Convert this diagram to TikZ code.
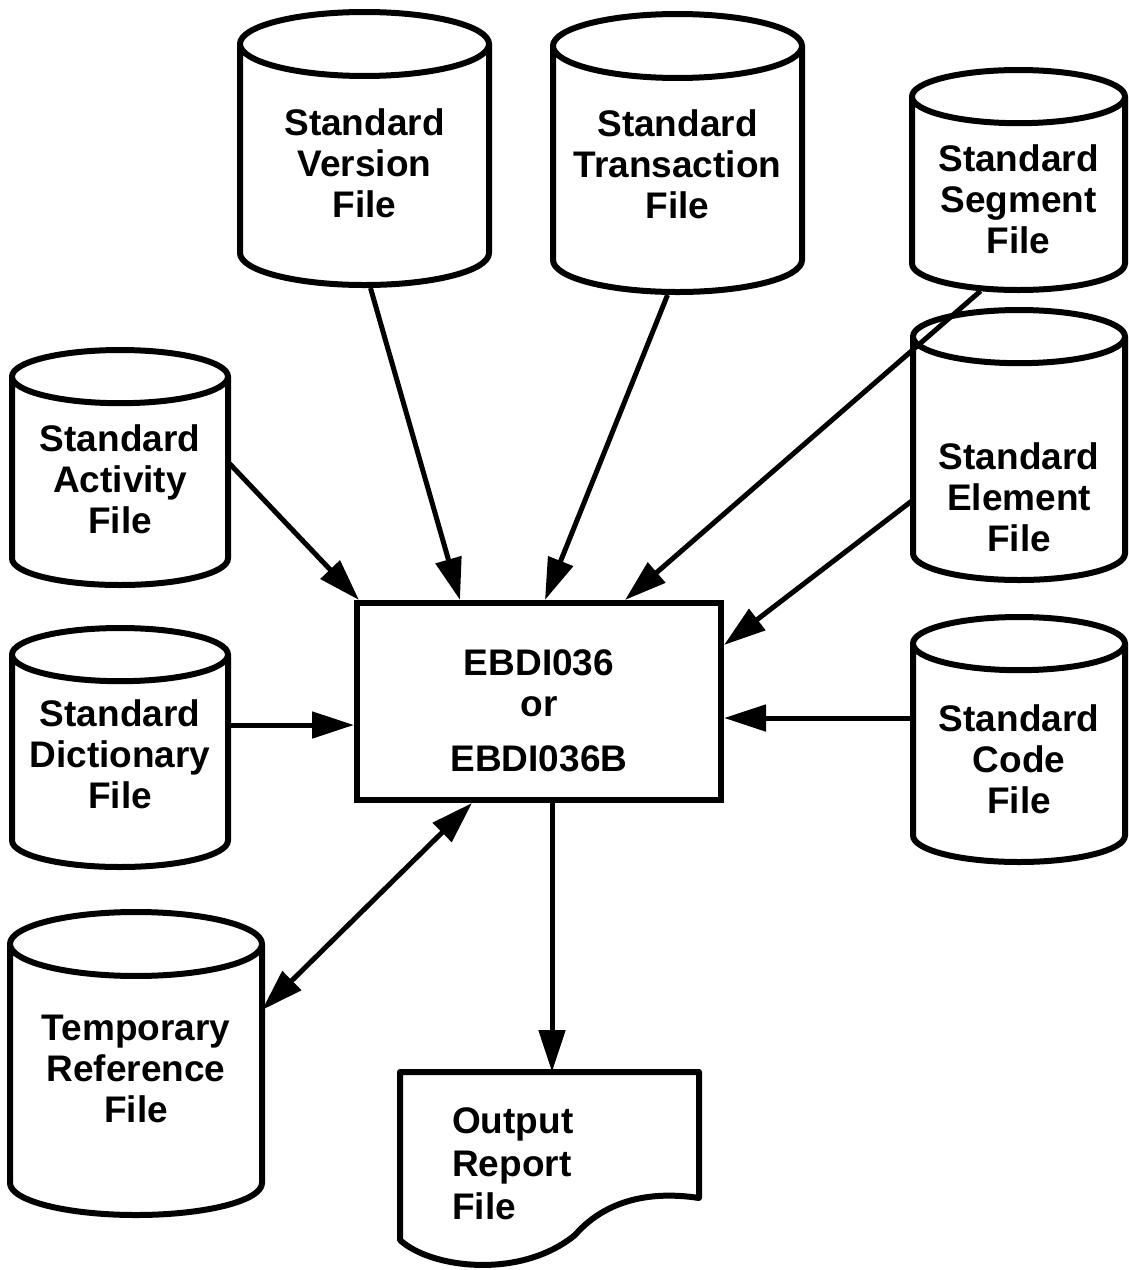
\documentclass[tikz,border=0pt]{standalone}
\usepackage{fontspec}
\setmainfont{Liberation Sans}
\usetikzlibrary{arrows.meta, shapes.geometric}

% lines of a label, lifted by #1 without changing its size
\newcommand\stack[2]{\makebox[\linewidth]{\raisebox{#1}[\height][\depth]{\begin{tabular}{@{}c@{}}#2\end{tabular}}}}

\tikzset{
  file/.style={draw, line width=6pt, cylinder, shape border rotate=90, aspect=0.38,
    anchor=shape center, inner sep=0pt, text width=140pt, align=center,
    font=\bfseries\fontsize{37}{41}\selectfont},
  wide/.style={aspect=0.457},
  prog/.style={draw, line width=6pt, rectangle, inner sep=0pt, text width=300pt, align=center,
    minimum width=364pt, minimum height=197pt,
    font=\bfseries\fontsize{37}{41}\selectfont},
  report/.style={rectangle, inner sep=0pt, anchor=north west,
    minimum width=299pt, minimum height=184pt,
    text width=195pt, align=left, font=\bfseries\fontsize{37}{43}\selectfont},
  flow/.style={line width=5pt, -{Triangle[length=42pt,width=26pt]}},
  both/.style={line width=5pt, {Triangle[length=42pt,width=26pt]}-{Triangle[length=42pt,width=26pt]}},
}

\begin{document}
\begin{tikzpicture}[x=1pt,y=-1pt]
\useasboundingbox (0,0) rectangle (1128,1270);

% files round the program
\node[file, wide, minimum width=249pt, minimum height=273pt] (ver) at (364.5,148.5) {\stack{-2pt}{Standard\\Version\\File}};
\node[file, wide, minimum width=249pt, minimum height=278pt] (trn) at (677.5,153) {\stack{1pt}{Standard\\Transaction\\File}};
\node[file, minimum width=213pt, minimum height=220pt] (seg) at (1018.5,180) {\stack{-9pt}{Standard\\Segment\\File}};
\node[file, minimum width=216pt, minimum height=235pt] (act) at (120,467.5) {\stack{-2pt}{Standard\\Activity\\File}};
\node[file, minimum width=212pt, minimum height=270pt] (ele) at (1019,445) {\stack{-42pt}{Standard\\Element\\File}};
\node[file, minimum width=216pt, minimum height=239pt] (dic) at (120,747.5) {\stack{3pt}{Standard\\Dictionary\\File}};
\node[file, minimum width=212pt, minimum height=245pt] (cod) at (1019,739.5) {\stack{-10pt}{Standard\\Code\\File}};
\node[file, wide, minimum width=252pt, minimum height=303pt] (tmp) at (136,1063.5) {\stack{8pt}{Temporary\\Reference\\File}};

% program and report
\node[prog] (ebdi) at (539,701.5) {\stack{-14pt}{EBDI036\\or\\[14pt]EBDI036B}};
\node[report] (rep) at (400,1072) {Output\\Report\\File};
\begin{scope}[shift={(rep.north west)}]
\draw[line width=6pt, line join=round] (0,0) -- (299,0) -- (299,126)
  .. controls (260,120) and (210,123) .. (175,163)
  .. controls (120,208) and (30,196) .. (0,168) -- cycle;
\end{scope}

% ends of the flows on the box
\coordinate (dicin) at ([yshift=-23.5pt]ebdi.west);
\coordinate (codin) at ([yshift=-16.5pt]ebdi.east);

% data flow
\draw[flow] ([xshift=6pt]ver.south) -- ([xshift=106pt]ebdi.north west);
\draw[flow] ([xshift=-10pt]trn.south) -- ([xshift=191pt]ebdi.north west);
\draw[flow] ([xshift=-38pt,yshift=2pt]seg.south) -- ([xshift=271pt]ebdi.north west);
\draw[flow] ([xshift=108pt,yshift=5.5pt]act.shape center) -- ([xshift=5pt]ebdi.north west);
\draw[flow] ([xshift=-106pt,yshift=-55pt]ele.shape center) -- ([yshift=-45pt]ebdi.north east);
\draw[flow] (dicin -| dic.east) -- (dicin);
\draw[flow] (codin -| cod.west) -- (codin);
\draw[both] ([xshift=118pt]ebdi.south west) -- ([xshift=126pt,yshift=53.5pt]tmp.shape center);
\draw[flow] ([xshift=13pt]ebdi.south) -- ([xshift=13pt]ebdi.south |- rep.north);
\end{tikzpicture}
\end{document}
